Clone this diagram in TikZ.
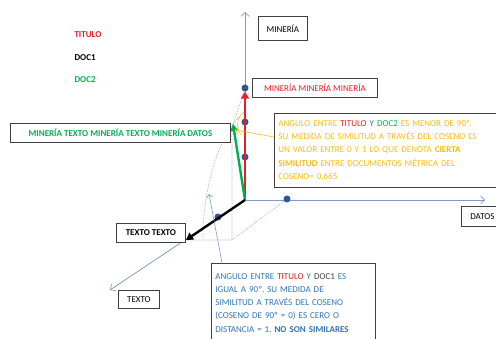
\documentclass[tikz,border=0pt]{standalone}
\usepackage{fontspec}
\setmainfont{Carlito}
\usetikzlibrary{arrows.meta}
\definecolor{eje}{RGB}{125,155,205}
\definecolor{punto}{RGB}{47,85,151}
\definecolor{rojo}{RGB}{235,28,36}
\definecolor{verde}{RGB}{0,176,80}
\definecolor{oro}{RGB}{250,190,10}
\definecolor{azul}{RGB}{46,117,182}
\definecolor{borde}{RGB}{64,64,64}
\frenchspacing
\begin{document}
\begin{tikzpicture}[x=1pt,y=-1pt,font=\fontsize{9}{13.2}\selectfont,
    caja/.style={draw=borde,line width=0.8pt,fill=white,inner sep=4pt,align=left,anchor=north west},
    eje/.style={draw=eje,line width=0.7pt,-{Straight Barb[length=4pt,width=8pt]}},
    punto/.style={circle,fill=punto,inner sep=0pt,minimum size=7pt},
    vector/.style={line width=2.4pt,-{Triangle[length=7pt,width=8pt]}},
    proy/.style={draw=eje,densely dotted,line width=0.6pt}]
    \useasboundingbox (0,0) rectangle (496,339);

    % leyenda
    \node[anchor=west,text=rojo] (leyTitulo) at (71,35) {\textbf{TITULO}};
    \node[anchor=west] (leyDoc1) at (71,58) {\textbf{DOC1}};
    \node[anchor=west,text=verde] (leyDoc2) at (71,80) {\textbf{DOC2}};

    % ejes
    \coordinate (o) at (245,200);
    \coordinate (ytip) at (245,12);
    \coordinate (xtip) at (485,200);
    \coordinate (ztip) at (110,290);
    \draw[eje] (o) -- (ytip);
    \draw[eje] (o) -- (xtip);
    \draw[eje] (o) -- (ztip);

    % proyecciones
    \coordinate (p1) at (232,128);
    \coordinate (p2) at (232,240);
    \coordinate (vdoc1) at (186,240);
    \coordinate (vdoc2) at (233,124);
    \coordinate (arcIni) at (240,116);
    \coordinate (arcFin) at (203,238);
    \node[punto] (d1) at (245,88) {};
    \node[punto] (d2) at (245,122) {};
    \node[punto] (d3) at (245,157) {};
    \node[punto] (dx) at (287,199) {};
    \node[punto] (dz) at (218,217) {};
    \draw[proy] (d1) -- (p1) -- (p2) -- (vdoc1);
    \draw[proy] (p2) -- (dx);
    \draw[proy] (arcIni) .. controls (220,135) and (203,185) .. (arcFin);

    % vectores
    \draw[vector,rojo] (o) -- (d1);
    \draw[vector,verde] (o) -- (vdoc2);
    \draw[vector,black] (o) -- (vdoc1);

    % cajas
    \node[caja,minimum width=49pt,minimum height=24pt] (mineria) at (258,16) {MINERÍA};
    \node[caja,text=rojo,minimum width=125pt,minimum height=19pt] (titulo) at (252,78) {MINERÍA MINERÍA MINERÍA};
    \node[caja,text=verde,minimum width=220pt,minimum height=19pt] (doc2) at (10,123) {\textbf{MINERÍA TEXTO MINERÍA TEXTO MINERÍA DATOS}};
    \node[caja,minimum width=69pt,minimum height=19pt] (doc1) at (116,223) {\textbf{TEXTO TEXTO}};
    \node[caja,minimum width=41pt,minimum height=18pt] (texto) at (118,290) {TEXTO};
    \node[caja,minimum width=42pt,minimum height=20pt] (datos) at (461,206) {DATOS};
    \node[caja,text=oro,text width=222pt,minimum height=74pt] (cajaOro) at (274,113) {ANGULO ENTRE {\color{rojo}TITULO} {\color{azul}Y} {\color{verde}DOC2} ES MENOR DE 90º.\\
      SU MEDIDA DE SIMILITUD A TRAVÉS DEL COSENO ES\\
      UN VALOR ENTRE 0 Y 1 LO QUE DENOTA \textbf{CIERTA}\\
      \textbf{SIMILITUD} ENTRE DOCUMENTOS MÉTRICA DEL\\
      COSENO= 0,665};
    \node[caja,text=azul,text width=156pt,inner ysep=10pt] (cajaAzul) at (211,263) {ANGULO ENTRE {\color{rojo}TITULO} Y {\color{borde}DOC1} ES\\
      IGUAL A 90º. SU MEDIDA DE\\
      SIMILITUD A TRAVÉS DEL COSENO\\
      (COSENO DE 90º = 0) ES CERO O\\
      DISTANCIA = 1. \textbf{NO SON SIMILARES}};

    % llamadas
    \coordinate (flechaAzul) at (209,194);
    \coordinate (flechaOro) at (235,130);
    \coordinate (arcOroIni) at (244,112);
    \coordinate (arcOroFin) at (241,135);
    \draw[eje,line width=0.6pt,-{Straight Barb[length=3pt,width=6pt]}] ([xshift=11pt]cajaAzul.north west) -- (flechaAzul);
    \draw[oro,line width=0.6pt,-{Straight Barb[length=3pt,width=6pt]}] ([yshift=-24pt]cajaOro.north west) -- (flechaOro);
    \draw[oro,line width=0.5pt] (arcOroIni) .. controls (236,118) and (236,128) .. (arcOroFin);
\end{tikzpicture}
\end{document}
